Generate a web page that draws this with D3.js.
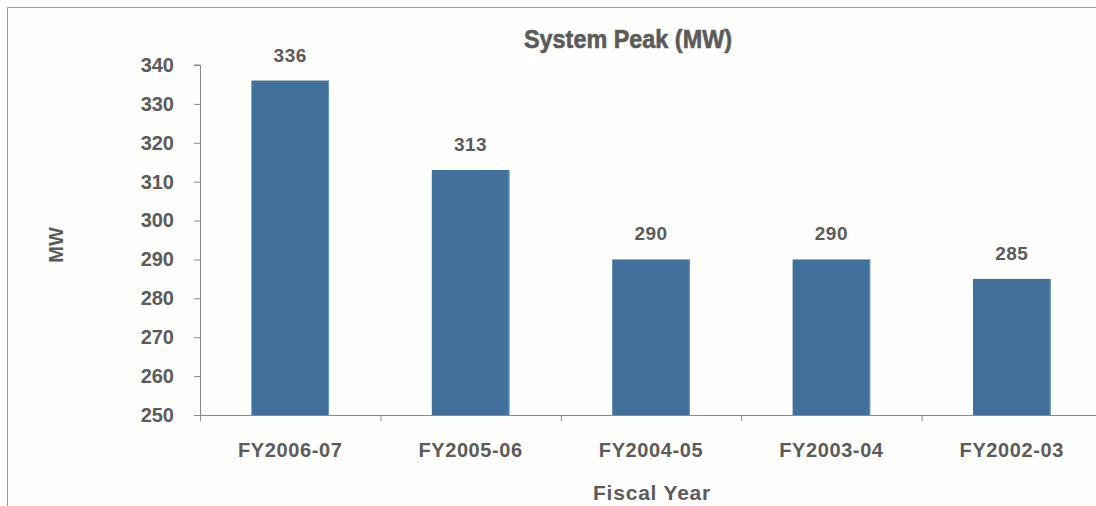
<!DOCTYPE html>
<html>
<head>
<meta charset="utf-8">
<script src="https://cdn.jsdelivr.net/npm/d3@7"></script>
<style>
  body { margin: 0; background: #fefefc; }
  svg { display: block; }
</style>
</head>
<body>
<svg></svg>
<script>
const width = 1096;
const height = 506;

// chart data
const categories = ["FY2006-07", "FY2005-06", "FY2004-05", "FY2003-04", "FY2002-03"];
const peakValues = [336, 313, 290, 290, 285];
const yTicks = [250, 260, 270, 280, 290, 300, 310, 320, 330, 340];

const margin = {top: 65, left: 200, bottom: 91, right: -6};
const textColor = "#5b5b5b";
const font = "Arial, 'Liberation Sans', sans-serif";

const svg = d3.select("svg").attr("width", width).attr("height", height);

// outer frame (top and left edges visible)
svg.append("path")
    .attr("d", `M7.5,${height} V7.5 H${width}`)
    .attr("fill", "none")
    .attr("stroke", "#9a9a9a")
    .attr("stroke-width", 1);

const x = d3.scaleBand()
    .domain(categories)
    .range([margin.left, width - margin.right])
    .paddingInner(0.57)
    .paddingOuter(0.285);

const y = d3.scaleLinear()
    .domain([250, 340])
    .range([height - margin.bottom, margin.top]);

// bars
svg.append("g").selectAll("rect")
    .data(peakValues)
    .enter().append("rect")
    .attr("x", (d, i) => x(categories[i]))
    .attr("y", d => y(d))
    .attr("width", x.bandwidth())
    .attr("height", d => y(250) - y(d))
    .attr("fill", "#41709a");

// thin light right edge on bars
svg.append("g").selectAll("line")
    .data(peakValues)
    .enter().append("line")
    .attr("x1", (d, i) => x(categories[i]) + x.bandwidth() - 0.5)
    .attr("x2", (d, i) => x(categories[i]) + x.bandwidth() - 0.5)
    .attr("y1", d => y(d))
    .attr("y2", y(250))
    .attr("stroke", "#5f94c4")
    .attr("stroke-width", 1);

// value labels
svg.append("g").selectAll("text")
    .data(peakValues)
    .enter().append("text")
    .attr("x", (d, i) => x(categories[i]) + x.bandwidth() / 2)
    .attr("y", d => y(d) - 19)
    .attr("text-anchor", "middle")
    .style("font-family", font)
    .style("font-weight", "bold")
    .style("font-size", "19px")
    .style("letter-spacing", "0.5px")
    .style("fill", textColor)
    .text(d => d);

// y axis
const yAxis = svg.append("g")
    .attr("transform", `translate(${margin.left},0)`)
    .call(d3.axisLeft(y).tickValues(yTicks).tickSize(6).tickPadding(20));
yAxis.select(".domain").attr("stroke", "#8a8a8a").attr("d", `M-6,${y(340)}H0.5V${y(250)}`);
yAxis.selectAll(".tick line").attr("stroke", "#8a8a8a");
yAxis.selectAll(".tick text")
    .style("font-family", font)
    .style("font-weight", "bold")
    .style("font-size", "20px")
    .style("fill", textColor);

// x axis with ticks at band boundaries
const xAxisG = svg.append("g")
    .attr("transform", `translate(0,${y(250)})`);
xAxisG.append("line")
    .attr("x1", margin.left - 6).attr("x2", width)
    .attr("y1", 0.5).attr("y2", 0.5)
    .attr("stroke", "#8a8a8a");
const step = x.step();
const bounds = d3.range(categories.length + 1).map(i => margin.left + i * step);
xAxisG.selectAll(".xtick")
    .data(bounds)
    .enter().append("line")
    .attr("class", "xtick")
    .attr("x1", d => d + 0.5).attr("x2", d => d + 0.5)
    .attr("y1", 0).attr("y2", 6)
    .attr("stroke", "#8a8a8a");
xAxisG.selectAll(".xlabel")
    .data(categories)
    .enter().append("text")
    .attr("class", "xlabel")
    .attr("x", d => x(d) + x.bandwidth() / 2)
    .attr("y", 42)
    .attr("text-anchor", "middle")
    .style("font-family", font)
    .style("font-weight", "bold")
    .style("font-size", "20px")
    .style("letter-spacing", "0.6px")
    .style("fill", textColor)
    .text(d => d);

// title (condensed, heavy)
svg.append("text")
    .attr("x", 628)
    .attr("y", 48)
    .attr("text-anchor", "middle")
    .attr("textLength", 208)
    .attr("lengthAdjust", "spacingAndGlyphs")
    .style("font-family", font)
    .style("font-weight", "bold")
    .style("font-size", "25px")
    .style("fill", textColor)
    .style("stroke", textColor)
    .style("stroke-width", "0.6px")
    .text("System Peak (MW)");

// axis titles
svg.append("text")
    .attr("x", 652)
    .attr("y", 500)
    .attr("text-anchor", "middle")
    .style("font-family", font)
    .style("font-weight", "bold")
    .style("font-size", "21px")
    .style("letter-spacing", "0.8px")
    .style("fill", textColor)
    .text("Fiscal Year");

svg.append("text")
    .attr("transform", "translate(63,245) rotate(-90)")
    .attr("text-anchor", "middle")
    .style("font-family", font)
    .style("font-weight", "bold")
    .style("font-size", "20px")
    .style("fill", textColor)
    .text("MW");
</script>
</body>
</html>
